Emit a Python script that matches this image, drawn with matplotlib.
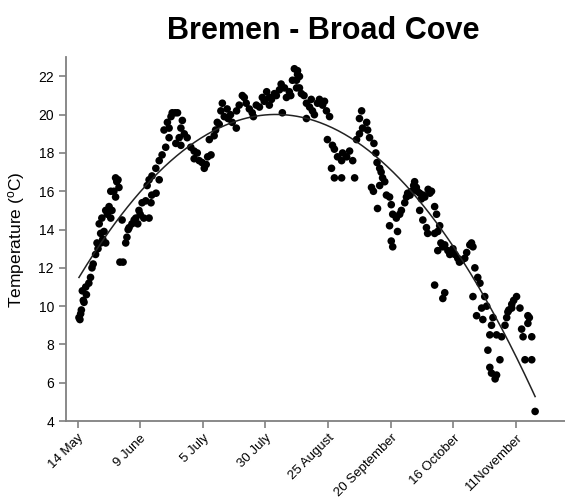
import numpy as np
import matplotlib
matplotlib.use("Agg")
import matplotlib.pyplot as plt

plt.rcParams['font.family'] = ['Liberation Sans', 'DejaVu Sans']

# Days since 14 May, and temperatures (deg C), by season segment
days_a = [0.6,1.0,1.3,1.6,2.0,2.4,2.7,3.4,3.7,4.7,5.4,6.0,6.5,7.5,8.1,8.5,9.0,9.6,9.6,10.1,10.5,11.0,11.7,11.7,12.4,13.1,13.8,14.3,13.8,15.1,15.8,15.8,16.3,16.8,17.2,17.6,18.5,18.9,20.0,20.5,21.0,21.4,22.6,23.5,24.2,25.0,25.5,26.0,26.8,27.5,28.3,28.9,29.7,30.5,30.8,32.6,33.9]
temps_a = [9.4,9.3,9.6,9.8,10.8,10.3,10.2,11.0,10.6,11.2,11.5,12.0,12.2,12.7,13.3,13.0,14.3,13.3,13.8,14.6,13.5,13.9,13.3,15.0,14.8,15.2,14.6,15.0,16.0,16.0,15.7,16.7,16.5,16.6,16.2,12.3,14.5,12.3,13.3,13.6,14.0,14.1,14.3,14.5,14.6,14.3,15.0,14.8,15.4,14.6,15.5,16.3,14.6,15.4,15.8,15.9,16.6]

days_b = [29.7,30.9,32.5,33.9,35.1,35.9,36.6,37.3,38.0,38.0,38.8,39.3,40.5,40.8,41.5,42.2,42.9,42.9,43.5,44.3,45.5,47.0,48.4,48.4,49.7,50.5,51.7,52.6,53.4,54.0,54.7,55.4,56.7,57.3,58.0,58.8]
temps_b = [16.6,16.8,17.2,17.6,17.9,19.2,18.3,19.6,19.3,18.8,19.9,20.1,20.1,18.5,20.1,18.8,19.3,18.4,19.7,19.0,18.8,18.3,18.1,17.7,18.0,17.6,17.5,17.2,17.4,17.8,18.7,17.9,18.9,19.2,19.6,19.5]

days_c = [59.5,60.1,60.9,62.1,62.5,63.5,64.2,65.9,66.0,67.1,68.4,69.2,70.0,71.3,72.5,73.0,74.2,75.5,76.7,77.5,78.5,79.6,79.6,80.5,81.7,82.5,83.8,84.5,85.0,85.9,86.7,87.9,88.5,89.2,90.0,90.9,91.3]
temps_c = [20.2,20.6,19.9,20.3,19.8,20.0,19.6,19.3,20.2,20.5,21.0,20.9,20.6,20.3,20.1,19.9,20.5,20.4,20.9,20.7,21.2,20.9,20.5,20.8,21.1,21.0,21.3,21.6,20.1,21.4,20.9,21.2,21.0,21.8,22.4,21.4,22.1]

days_d = [91.3,92.1,90.9,92.1,92.9,94.0,95.0,95.0,96.3,97.0,97.5,98.3,99.6,100.4,101.7,102.5,103.3,104.6,103.7,105.8,106.6,107.9,109.6,110.0,111.7,112.9,105.4,106.6,109.6,115.0,114.2,115.8,117.0,117.9,117.0,118.3,120.0,120.4,121.2,122.0]
temps_d = [22.3,22.0,21.8,21.4,21.1,21.0,20.6,19.8,20.4,20.8,20.2,20.0,20.6,20.8,20.5,20.7,20.2,19.9,18.7,18.4,18.2,17.8,17.6,18.0,17.8,18.1,17.2,16.7,16.7,16.7,17.6,18.7,19.0,20.2,19.8,19.3,19.6,19.2,18.8,16.2]

days_e = [123.0,123.8,124.3,125.4,126.0,126.6,122.8,125.4,128.2,129.5,130.2,124.5,130.8,132.3,133.7,129.5,132.8,130.2,130.8,134.4,135.8,136.5,137.0,138.6,139.9,140.6,142.0,142.7,144.1,146.2,146.9,142.0,143.3,144.8,145.3,148.2,149.0,150.3,149.5,148.2,148.2,152.4,151.6,127.5,138.0,139.5,141.0,143.5,145.5]
temps_e = [18.5,18.0,17.5,17.2,17.0,16.7,16.0,16.3,15.8,15.7,15.3,15.1,14.8,14.6,14.8,14.2,13.9,13.4,13.1,15.0,15.4,15.7,15.9,16.0,16.5,16.2,15.9,15.6,15.7,15.9,16.0,15.0,14.5,14.1,13.8,15.2,14.8,14.2,13.9,13.8,11.1,10.7,10.4,16.5,15.8,16.3,16.0,15.8,16.1]

days_f = [149.5,151.6,152.4,153.7,155.8,156.6,157.8,159.5,160.7,162.8,164.1,164.9,166.1,167.0,164.1,169.0,167.7,169.8,165.6,168.2,171.8,172.4,171.1,173.9,176.0,177.4,178.1,178.6,180.2,180.2,182.2,183.6,184.3,184.9,186.9,186.9,188.5,170.3,175.3,171.1,171.8,173.9,173.3,185.7,188.5,189.9,154.5,158.5,161.5,150.8,163.5,179.0,181.0,187.5]
temps_f = [12.9,13.1,13.2,12.9,13.0,12.7,12.5,12.4,12.5,13.2,13.1,12.0,11.5,11.2,10.5,10.5,9.9,10.0,9.5,9.3,9.0,9.4,8.5,8.5,8.4,9.0,9.4,9.7,9.9,10.1,10.5,9.9,8.8,8.4,9.5,9.1,8.4,7.7,7.2,6.8,6.5,6.4,6.2,7.2,7.2,4.5,12.7,12.3,12.8,13.3,13.3,9.8,10.3,9.4]

tick_days = [0, 26, 52, 78, 104, 130, 156, 182]
tick_labels = ["14 May", "9 June", "5 July", "30 July", "25 August",
               "20 September", "16 October", "11November"]
y_ticks = [4, 6, 8, 10, 12, 14, 16, 18, 20, 22]

days = np.array(days_a + days_b + days_c + days_d + days_e + days_f)
temps = np.array(temps_a + temps_b + temps_c + temps_d + temps_e + temps_f)

fig = plt.figure(figsize=(5.65, 4.98), dpi=100)
ax = fig.add_axes([0.1163, 0.1546, 0.8837, 0.7304])

ax.scatter(days, temps, s=30, color='black', edgecolors='none', zorder=3)

coef = np.polyfit(days, temps, 2)
xs = np.linspace(days.min(), days.max(), 300)
ax.plot(xs, np.polyval(coef, xs), color='#222222', lw=1.1, zorder=4)

ax.set_xlim(-4.9, 202.3)
ax.set_ylim(4, 23)
ax.set_yticks(y_ticks)
ax.set_xticks(tick_days)
ax.set_xticklabels(tick_labels, rotation=45, ha='right', rotation_mode='anchor')

for s in ['top', 'right']:
    ax.spines[s].set_visible(False)
for s in ['left', 'bottom']:
    ax.spines[s].set_color('#808080')
    ax.spines[s].set_linewidth(1.3)
ax.tick_params(axis='both', colors='#808080', labelcolor='black', length=5, width=1.2,
               labelsize=10)
ax.tick_params(axis='x', labelsize=9.5, pad=3)

ax.set_ylabel('Temperature ($\\mathregular{^{o}}$C)', fontsize=12.5, labelpad=8)
fig.text(0.572, 0.938, 'Bremen - Broad Cove', ha='center', va='center',
         fontsize=22, fontweight='bold')

fig.savefig('out.png', dpi=100)
